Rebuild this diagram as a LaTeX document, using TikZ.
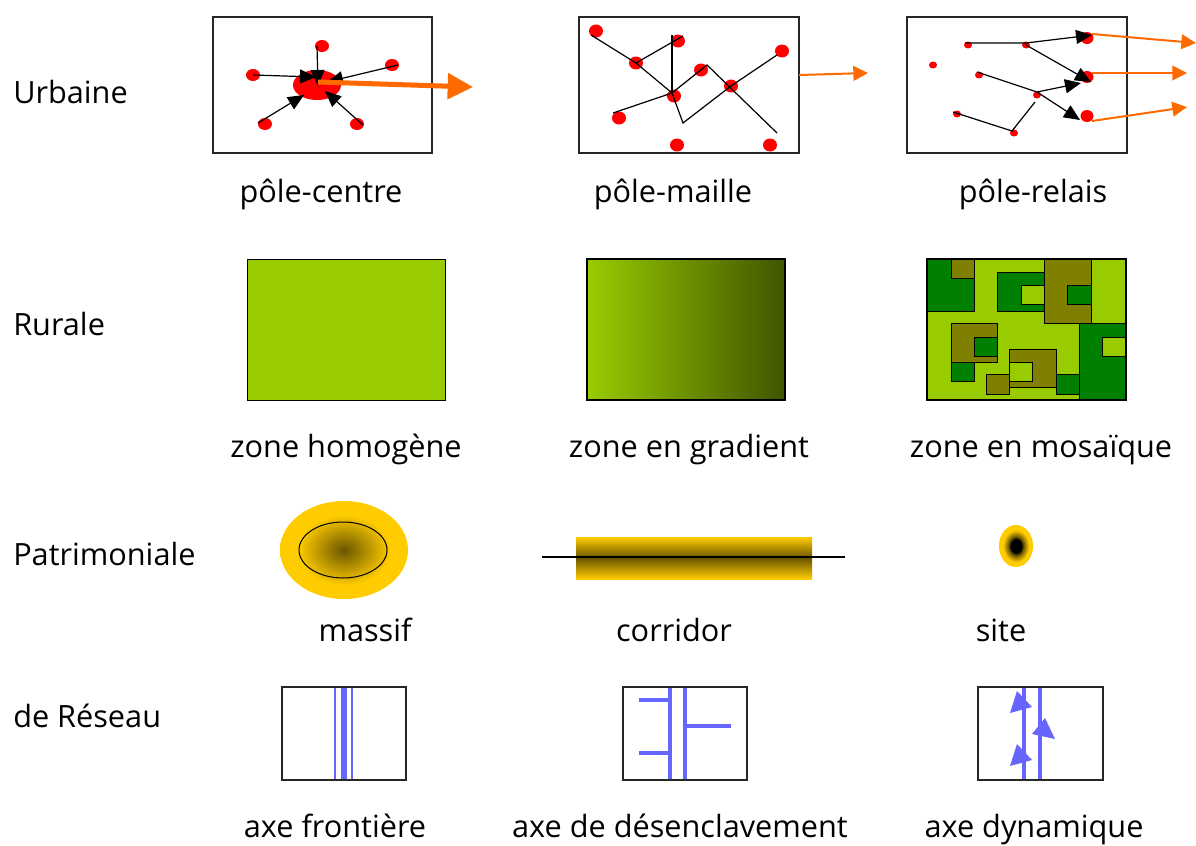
\documentclass[tikz,border=0pt]{standalone}
\usepackage{fontspec}
\setmainfont{Open Sans}
\usepackage{tikz}
\usetikzlibrary{arrows.meta,positioning}
\definecolor{meadow}{HTML}{99CC00}
\definecolor{forest}{HTML}{008000}
\definecolor{olivebox}{HTML}{808000}
\definecolor{moss}{HTML}{3F5500}
\definecolor{gold}{HTML}{FFCC00}
\definecolor{umber}{HTML}{6A5500}
\definecolor{flow}{HTML}{FF6A00}
\definecolor{roadblue}{HTML}{6666FF}
\pgfdeclareradialshading{massifshade}{\pgfpoint{0bp}{0bp}}{color(0bp)=(umber); color(18bp)=(gold); color(50bp)=(gold)}
\pgfdeclareradialshading{siteshade}{\pgfpoint{0bp}{0bp}}{color(0bp)=(black); color(8bp)=(black); color(11bp)=(umber); color(19bp)=(gold); color(50bp)=(gold)}

\begin{document}
\begin{tikzpicture}[x=0.75pt, y=-0.75pt,
  every node/.style={font=\fontsize{23}{28}\selectfont},
  rowlabel/.style={anchor=base west, inner sep=0pt},
  caption/.style={anchor=base},
  iconframe/.style={draw=black!85, line width=1pt},
  wire/.style={line width=0.9pt},
  pointer/.style={wire, -{Triangle[length=12pt,width=10.5pt]}},
  flowarrow/.style={draw=flow, line width=1.5pt, -{Triangle[length=11pt,width=11pt]}},
  tile/.style={draw=black, line width=0.75pt, fill=#1},
  road/.style={draw=roadblue, line width=#1},
  road/.default=3.6pt,
]
  \useasboundingbox (0,0) rectangle (1196,846);

  % row labels
  \node[rowlabel] (urbaine) at (13,103) {Urbaine};
  \node[rowlabel] (rurale) at (13,335) {Rurale};
  \node[rowlabel] (patrimoniale) at (13,565) {Patrimoniale};
  \node[rowlabel] (reseau) at (13,727) {de Réseau};

  % pole-centre
  \draw[iconframe] (213,17) rectangle (432,153);
  \fill[red] (317,85) ellipse [x radius=24, y radius=15];
  \foreach \x/\y in {322/46,392/65,253/75,265/124,357/124}
    \fill[red] (\x,\y) ellipse [x radius=7, y radius=6];
  \draw[pointer] (253,75) -- (316,77);
  \draw[pointer] (317,46) -- (318,86);
  \draw[pointer] (398,65) -- (327,82);
  \draw[pointer] (258,123) -- (304,95);
  \draw[pointer] (363,125) -- (325,91);
  \draw[draw=flow, line width=3.75pt, -{Triangle[length=19pt,width=19pt]}] (318,82) -- (473,87);

  % pole-maille
  \draw[iconframe] (579,17) rectangle (799,153);
  \foreach \x/\y in {596/31,678/41,636/63,701/70,782/51,731/86,674/96,619/118,677/145,770/145}
    \fill[red] (\x,\y) ellipse [x radius=7, y radius=6.5];
  \draw[wire] (591,35) -- (636,63) -- (672,93);
  \draw[wire] (636,63) -- (683,36);
  \draw[wire] (672,35) -- (672,93);
  \draw[wire] (613,113) -- (672,93) -- (707,65) -- (777,133);
  \draw[wire] (672,93) -- (683,123) -- (731,86) -- (777,55);
  \draw[flowarrow] (799,75) -- (868,73);

  % pole-relais
  \draw[iconframe] (907,17) rectangle (1127,153);
  \foreach \x/\y in {933/65,968/45,1026/45,979/75,1037/95,957/114,1014/133}
    \fill[red] (\x,\y) ellipse [x radius=4, y radius=3.5];
  \foreach \y in {38,77,116}
    \fill[red] (1087,\y) ellipse [x radius=6.5, y radius=6];
  \draw[pointer] (965,43) -- (1026,43) -- (1092,35);
  \draw[pointer] (1026,45) -- (1091,82);
  \draw[pointer] (977,72) -- (1037,92) -- (1081,83);
  \draw[pointer] (1037,92) -- (1080,120);
  \draw[wire] (953,112) -- (1012,131) -- (1035,102);
  \draw[flowarrow] (1092,34) -- (1196,43);
  \draw[flowarrow] (1092,73) -- (1187,73);
  \draw[flowarrow] (1092,121) -- (1187,107);

  \node[caption] (polecentre) at (321,202) {pôle-centre};
  \node[caption] (polemaille) at (673,202) {pôle-maille};
  \node[caption] (polerelais) at (1033,202) {pôle-relais};

  % rural zones
  \draw[tile=meadow] (247,259) rectangle (445,400);
  \shade[left color=meadow, right color=moss] (587,259) rectangle (785,400);
  \draw[line width=0.9pt] (587,259) rectangle (785,400);
  \fill[meadow] (927,259) rectangle (1126,400);
  \foreach \a/\b/\c/\d/\col in {
      927/259/974/311/forest, 951/259/974/278/olivebox,
      997/272/1044/311/forest, 1021/285/1044/304/meadow,
      1044/259/1091/323/olivebox, 1067/285/1091/304/forest,
      1079/323/1126/400/forest, 1102/337/1126/356/meadow,
      951/323/997/362/olivebox, 974/337/997/356/forest,
      951/362/974/381/forest, 1009/349/1056/387/olivebox,
      1009/362/1032/381/meadow, 986/374/1009/394/olivebox,
      1056/374/1079/394/forest}
    \draw[tile=\col] (\a,\b) rectangle (\c,\d);
  \draw[line width=0.9pt] (927,259) rectangle (1126,400);

  \node[caption] (homogene) at (346,457) {zone homogène};
  \node[caption] (gradient) at (689,457) {zone en gradient};
  \node[caption] (mosaique) at (1041,457) {zone en mosaïque};

  % patrimonial
  \shade[shading=massifshade] (344,550) ellipse [x radius=64, y radius=49];
  \draw[line width=0.75pt] (343,550) ellipse [x radius=44, y radius=28];
  \shade[top color=gold, bottom color=gold, middle color=umber] (576,537) rectangle (812,579);
  \draw[line width=0.9pt] (542,557) -- (845,557);
  \shade[shading=siteshade] (1016,546) ellipse [x radius=17, y radius=21];

  \node[caption] (massif) at (365,641) {massif};
  \node[caption] (corridor) at (674,641) {corridor};
  \node[caption] (site) at (1001,641) {site};

  % network axes
  \draw[road=2.2pt] (335,687) -- (335,780);
  \draw[road=5.2pt] (344,687) -- (344,780);
  \draw[road=2.2pt] (352,687) -- (352,780);
  \draw[iconframe] (282,687) rectangle (406,780);

  \draw[road] (670,687) -- (670,780);
  \draw[road] (685,687) -- (685,780);
  \draw[road] (639,700) -- (670,700);
  \draw[road] (639,753) -- (670,753);
  \draw[road] (685,726) -- (731,726);
  \draw[iconframe] (623,687) rectangle (747,780);

  \draw[road] (1024,687) -- (1024,780);
  \draw[road] (1040,687) -- (1040,780);
  \fill[roadblue] (1017,691) -- (1010,713) -- (1032,707) -- cycle;
  \fill[roadblue] (1017,744) -- (1010,766) -- (1032,760) -- cycle;
  \fill[roadblue] (1045,718) -- (1032,734) -- (1055,739) -- cycle;
  \draw[iconframe] (978,687) rectangle (1103,780);

  \node[caption] (frontiere) at (335,837) {axe frontière};
  \node[caption] (desenclave) at (680,837) {axe de désenclavement};
  \node[caption] (dynamique) at (1034,837) {axe dynamique};
\end{tikzpicture}
\end{document}
